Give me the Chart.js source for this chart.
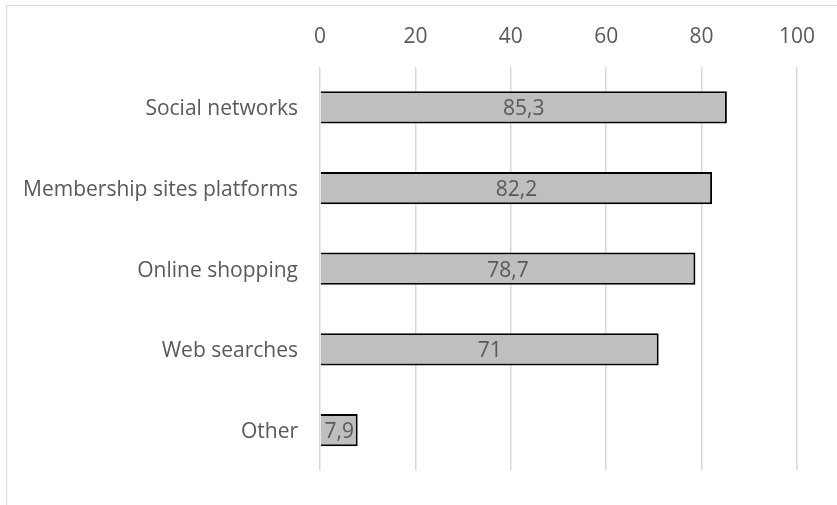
<!DOCTYPE html>
<html>
<head>
<meta charset="utf-8">
<script src="https://cdn.jsdelivr.net/npm/chart.js@4"></script>
<style>
    html, body { margin: 0; padding: 0; background: #fff; }
    #wrap { position: relative; width: 837px; height: 505px; overflow: hidden; }
    #frame {
        position: absolute; left: 6px; top: 5px; width: 840px; height: 520px;
        border: 1px solid #d9d9d9; box-sizing: border-box;
    }
    canvas { position: absolute; left: 0; top: 0; }
</style>
</head>
<body>
<div id="wrap">
    <div id="frame"></div>
    <canvas id="chart" width="837" height="505"></canvas>
</div>
<script>
const categories = ["Social networks", "Membership sites platforms", "Online shopping", "Web searches", "Other"];
const values = [85.3, 82.2, 78.7, 71, 7.9];
const tickValues = [0, 20, 40, 60, 80, 100];

const fontFamily = "'Open Sans', 'Liberation Sans', sans-serif";
const fontSize = 21;
const textColor = "#595959";

// etiquetas con coma decimal en el centro de cada barra
const barLabels = {
    id: "barLabels",
    afterDatasetsDraw(chart) {
        const ctx = chart.ctx;
        const meta = chart.getDatasetMeta(0);
        ctx.save();
        ctx.font = fontSize + "px " + fontFamily;
        ctx.fillStyle = textColor;
        ctx.textAlign = "center";
        ctx.textBaseline = "middle";
        meta.data.forEach((bar, i) => {
            const txt = String(values[i]).replace(".", ",");
            ctx.fillText(txt, (bar.x + bar.base) / 2, bar.y + 2);
        });
        ctx.restore();
    },
};

new Chart(document.getElementById("chart"), {
    type: "bar",
    data: {
        labels: categories,
        datasets: [
            {
                data: values,
                backgroundColor: "#bfbfbf",
                borderColor: "#000000",
                borderWidth: 2,
                borderSkipped: "start",
                categoryPercentage: 1,
                barPercentage: 0.4,
            },
        ],
    },
    options: {
        indexAxis: "y",
        responsive: false,
        animation: false,
        layout: { padding: { left: 0, right: 40, top: 0, bottom: 27 } },
        plugins: { legend: { display: false }, tooltip: { enabled: false } },
        scales: {
            x: {
                position: "top",
                min: 0,
                max: 100,
                afterBuildTicks: (scale) => {
                    scale.ticks = tickValues.map((v) => ({ value: v }));
                },
                afterFit: (scale) => {
                    scale.height = 67;
                },
                grid: { color: "#d9d9d9", lineWidth: 1.5, drawTicks: false },
                border: { display: false },
                ticks: {
                    color: textColor,
                    font: { family: fontFamily, size: fontSize },
                    padding: 17,
                },
            },
            y: {
                afterFit: (scale) => {
                    scale.width = 320;
                },
                grid: { display: false, drawTicks: false },
                border: { display: false },
                ticks: {
                    color: textColor,
                    font: { family: fontFamily, size: fontSize },
                    padding: 22,
                    labelOffset: 2,
                },
            },
        },
    },
    plugins: [barLabels],
});
</script>
</body>
</html>
